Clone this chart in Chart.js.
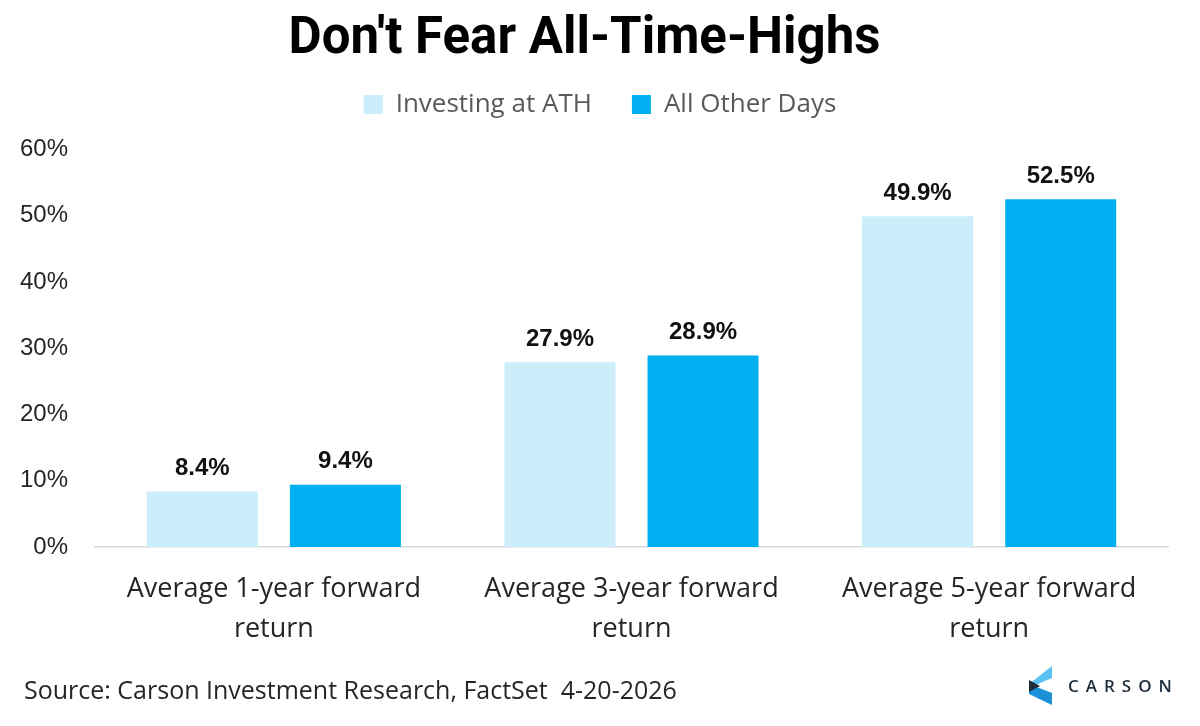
<!DOCTYPE html>
<html>
<head>
<meta charset="utf-8">
<script src="https://cdn.jsdelivr.net/npm/chart.js@4"></script>
<style>
  html, body { margin: 0; padding: 0; background: #fff; }
  #wrap { width: 1200px; height: 726px; position: relative; }
</style>
</head>
<body>
<div id="wrap"><canvas id="chart"></canvas></div>
<script>
const categories = [
  ["Average 1-year forward", "return"],
  ["Average 3-year forward", "return"],
  ["Average 5-year forward", "return"],
];
const athValues = [8.4, 27.9, 49.9];
const otherValues = [9.4, 28.9, 52.5];
const yTicks = [0, 10, 20, 30, 40, 50, 60];

const COLORS = {
  light: "#CCEEFB",
  blue: "#00B0F0",
  text: "#262626",
  legend: "#595959",
};

// value labels above each bar
const barLabels = {
  id: "barLabels",
  afterDatasetsDraw(chart) {
    const ctx = chart.ctx;
    ctx.save();
    ctx.font = "bold 24px 'Liberation Sans', Arial, sans-serif";
    ctx.fillStyle = "#111";
    ctx.textAlign = "center";
    ctx.textBaseline = "middle";
    chart.data.datasets.forEach((ds, i) => {
      chart.getDatasetMeta(i).data.forEach((bar, j) => {
        ctx.fillText(ds.data[j].toFixed(1) + "%", bar.x, bar.y - 23);
      });
    });
    ctx.restore();
  },
};

// extra room under the legend, and centre it on the page
const legendTweak = {
  id: "legendTweak",
  beforeInit(chart) {
    const fit = chart.legend.fit;
    chart.legend.fit = function () {
      fit.call(this);
      this.height += 22;
    };
  },
  afterLayout(chart) {
    const lg = chart.legend;
    const shift = 600 - (lg.left + lg.right) / 2;
    lg.left += shift;
    lg.right += shift;
  },
};

// source line and logo at the bottom
const footer = {
  id: "footer",
  afterDraw(chart) {
    const ctx = chart.ctx;
    ctx.save();
    ctx.font = "25px 'Open Sans', sans-serif";
    ctx.fillStyle = COLORS.text;
    ctx.textBaseline = "middle";
    ctx.textAlign = "left";
    ctx.fillText("Source: Carson Investment Research, FactSet  4-20-2026", 24, 692);

    // logo mark
    ctx.fillStyle = "#5BC2F4";
    ctx.beginPath();
    ctx.moveTo(1052, 666);
    ctx.lineTo(1052, 678);
    ctx.lineTo(1038, 684);
    ctx.lineTo(1029, 684);
    ctx.closePath();
    ctx.fill();
    ctx.fillStyle = "#1B8FD8";
    ctx.beginPath();
    ctx.moveTo(1029, 684);
    ctx.lineTo(1052, 693);
    ctx.lineTo(1052, 705);
    ctx.lineTo(1029, 694);
    ctx.closePath();
    ctx.fill();
    ctx.fillStyle = "#1E2D3D";
    ctx.beginPath();
    ctx.moveTo(1029, 680);
    ctx.lineTo(1040, 686);
    ctx.lineTo(1029, 692);
    ctx.closePath();
    ctx.fill();

    ctx.font = "600 17px 'Open Sans', sans-serif";
    ctx.fillStyle = "#1E2D3D";
    let x = 1068;
    for (const ch of "CARSON") {
      ctx.fillText(ch, x, 687);
      x += ctx.measureText(ch).width + 7;
    }
    ctx.restore();
  },
};

new Chart(document.getElementById("chart"), {
  type: "bar",
  data: {
    labels: categories,
    datasets: [
      {
        label: "Investing at ATH",
        data: athValues,
        backgroundColor: COLORS.light,
        categoryPercentage: 0.8,
        barPercentage: 0.776,
      },
      {
        label: "All Other Days",
        data: otherValues,
        backgroundColor: COLORS.blue,
        categoryPercentage: 0.8,
        barPercentage: 0.776,
      },
    ],
  },
  options: {
    responsive: true,
    maintainAspectRatio: false,
    animation: false,
    layout: { padding: { left: 1, right: 32, top: 6, bottom: 63 } },
    plugins: {
      title: {
        display: true,
        text: "Don't Fear All-Time-Highs",
        color: "#000",
        font: { family: "Roboto, sans-serif", size: 51, weight: "bold", lineHeight: 0.42 },
        padding: { top: 24, bottom: 0 },
      },
      legend: {
        display: true,
        position: "top",
        labels: {
          color: COLORS.legend,
          font: { family: "'Open Sans', sans-serif", size: 26 },
          boxWidth: 19,
          boxHeight: 19,
          padding: 40,
        },
      },
      tooltip: { enabled: false },
    },
    scales: {
      x: {
        grid: { display: false },
        border: { color: "#d9d9d9", width: 1.5 },
        ticks: {
          color: COLORS.text,
          font: { family: "'Open Sans', sans-serif", size: 27, lineHeight: 1.48 },
          padding: 14,
          maxRotation: 0,
        },
      },
      y: {
        min: 0,
        max: 60,
        afterBuildTicks: (axis) => { axis.ticks = yTicks.map((v) => ({ value: v })); },
        grid: { display: false },
        border: { display: false },
        ticks: {
          color: COLORS.text,
          font: { family: "'Liberation Sans', Arial, sans-serif", size: 24 },
          padding: 19,
          callback: (v) => v + "%",
        },
      },
    },
  },
  plugins: [barLabels, legendTweak, footer],
});
</script>
</body>
</html>
